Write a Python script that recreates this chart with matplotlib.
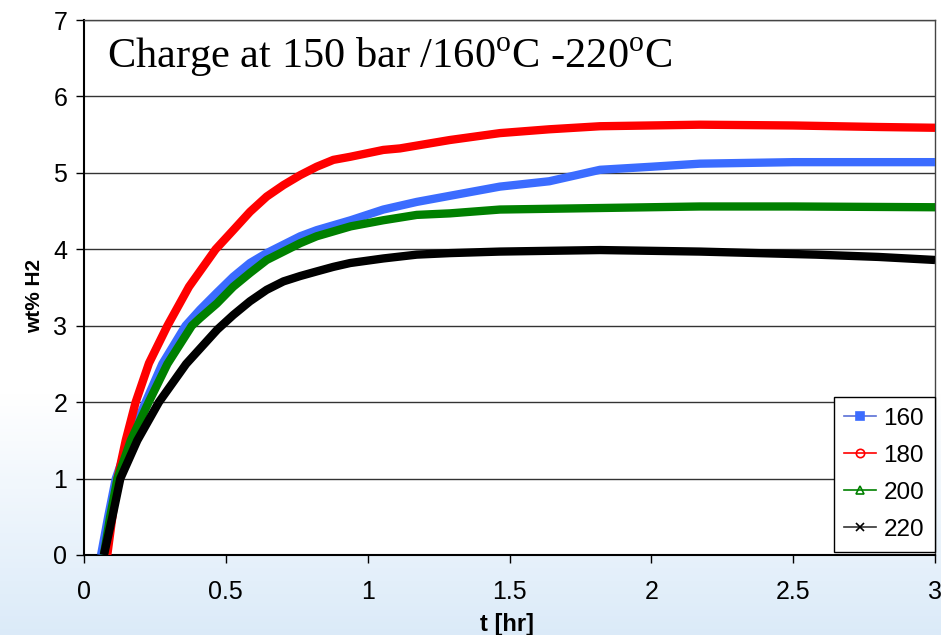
import numpy as np
import matplotlib

matplotlib.use("Agg")
import matplotlib.pyplot as plt
from matplotlib.lines import Line2D

# values (t in hours, wt% H2)
t_160 = [0.06, 0.085, 0.112, 0.159, 0.217, 0.276, 0.358, 0.409, 0.468, 0.526, 0.585, 0.644, 0.703, 0.762, 0.82,
         0.94, 1.055, 1.173, 1.29, 1.466, 1.64, 1.819, 2.0, 2.171, 2.5, 3.0]
w_160 = [0.0, 0.5, 1.0, 1.5, 2.0, 2.5, 3.0, 3.21, 3.43, 3.64, 3.82, 3.95, 4.06, 4.17, 4.25,
         4.38, 4.52, 4.62, 4.70, 4.82, 4.89, 5.04, 5.08, 5.12, 5.14, 5.14]

t_180 = [0.082, 0.10, 0.118, 0.147, 0.182, 0.229, 0.294, 0.370, 0.464, 0.526, 0.585, 0.644, 0.703, 0.762, 0.82,
         0.879, 0.938, 1.055, 1.114, 1.29, 1.466, 1.64, 1.819, 2.171, 2.5, 2.8, 3.0]
w_180 = [0.0, 0.5, 1.0, 1.5, 2.0, 2.51, 3.0, 3.51, 4.0, 4.25, 4.49, 4.69, 4.84, 4.97, 5.08,
         5.17, 5.21, 5.30, 5.32, 5.43, 5.52, 5.57, 5.61, 5.63, 5.62, 5.60, 5.59]

t_200 = [0.07, 0.092, 0.118, 0.165, 0.228, 0.294, 0.38, 0.409, 0.468, 0.526, 0.585, 0.644, 0.703, 0.762, 0.82,
         0.94, 1.055, 1.173, 1.29, 1.466, 1.819, 2.171, 2.5, 3.0]
w_200 = [0.0, 0.5, 1.0, 1.5, 2.0, 2.5, 3.0, 3.10, 3.29, 3.51, 3.69, 3.86, 3.97, 4.08, 4.17,
         4.30, 4.38, 4.45, 4.47, 4.52, 4.54, 4.56, 4.56, 4.55]

t_220 = [0.07, 0.10, 0.128, 0.188, 0.264, 0.36, 0.47, 0.526, 0.585, 0.644, 0.703, 0.762, 0.82, 0.879, 0.938,
         1.055, 1.173, 1.29, 1.466, 1.819, 2.171, 2.58, 2.8, 3.0]
w_220 = [0.0, 0.5, 1.0, 1.5, 2.0, 2.5, 2.95, 3.14, 3.32, 3.47, 3.58, 3.65, 3.71, 3.77, 3.82,
         3.88, 3.93, 3.95, 3.97, 3.99, 3.97, 3.93, 3.90, 3.86]

series_labels = ["160", "180", "200", "220"]
x_ticks = [0, 0.5, 1, 1.5, 2, 2.5, 3]
x_tick_labels = ["0", "0.5", "1", "1.5", "2", "2.5", "3"]
y_ticks = [0, 1, 2, 3, 4, 5, 6, 7]

plt.rcParams["font.family"] = ["Liberation Sans", "DejaVu Sans"]
plt.rcParams["mathtext.fontset"] = "custom"
plt.rcParams["mathtext.rm"] = "Liberation Serif"

figure = plt.figure(figsize=(9.41, 6.35), dpi=100)

# slide background: white, fading to pale blue near the bottom
background = figure.add_axes([0, 0, 1, 1], zorder=-10)
ramp = np.clip((np.linspace(0, 1, 200) - 0.62) / 0.38, 0, 1)[:, None]
top = np.array([1.0, 1.0, 1.0])
bottom = np.array([0.86, 0.92, 0.975])
gradient = top + (bottom - top) * ramp[..., None] * np.ones((1, 10, 1))
background.imshow(gradient, aspect="auto", extent=[0, 1, 0, 1], origin="upper")
background.axis("off")

axis = figure.add_axes([0.0893, 0.126, 0.9044, 0.8425])
axis.set_facecolor("white")

styles = [
    (t_160, w_160, "#3b6cff", "s", "#5a6fd6"),
    (t_180, w_180, "#ff0000", "o", "#ff0000"),
    (t_200, w_200, "#008000", "^", "#008000"),
    (t_220, w_220, "#000000", "x", "#333333"),
]
handles = []
for (times, values, color, marker, legend_color), label in zip(styles, series_labels):
    axis.plot(times, values, color=color, linewidth=6, solid_capstyle="butt",
              solid_joinstyle="round", zorder=3)
    handles.append(
        Line2D([], [], color=legend_color, linewidth=1.2, marker=marker, markersize=6,
               markerfacecolor=color if marker == "s" else "none", markeredgecolor=color,
               markeredgewidth=1.2, label=label)
    )

axis.set_xlim(0, 3)
axis.set_ylim(0, 7)
axis.set_xticks(x_ticks, x_tick_labels)
axis.set_yticks(y_ticks)
axis.grid(True, axis="y", color="#333333", linewidth=1.0)
axis.set_axisbelow(True)
axis.tick_params(axis="both", direction="out", length=6, width=1, labelsize=18)
axis.tick_params(axis="x", pad=12)
axis.tick_params(axis="y", pad=6)

for side in ["left", "bottom"]:
    axis.spines[side].set_color("black")
    axis.spines[side].set_linewidth(1.5)
for side in ["top", "right"]:
    axis.spines[side].set_color("#444444")
    axis.spines[side].set_linewidth(1.0)

axis.text(0.027, 0.93, r"Charge at 150 bar /160$^{\rm o}$C -220$^{\rm o}$C",
          transform=axis.transAxes, ha="left", va="center",
          fontsize=30.5, family="Liberation Serif")

figure.text(0.037, 0.534, "wt% H2", rotation=90, ha="center", va="center",
            fontsize=15, fontweight="bold")
figure.text(0.539, 0.017, "t [hr]", ha="center", va="center", fontsize=17, fontweight="bold")

legend = axis.legend(handles=handles, loc="lower right", bbox_to_anchor=(1.0, 0.006),
                     borderaxespad=0, fontsize=17.5, frameon=True, fancybox=False,
                     handlelength=1.3, handletextpad=0.3, labelspacing=0.62,
                     borderpad=0.45)
legend.get_frame().set_edgecolor("black")
legend.get_frame().set_linewidth(1.0)
legend.get_frame().set_facecolor("white")
legend.get_frame().set_alpha(1.0)

figure.savefig("out.png", dpi=100)
